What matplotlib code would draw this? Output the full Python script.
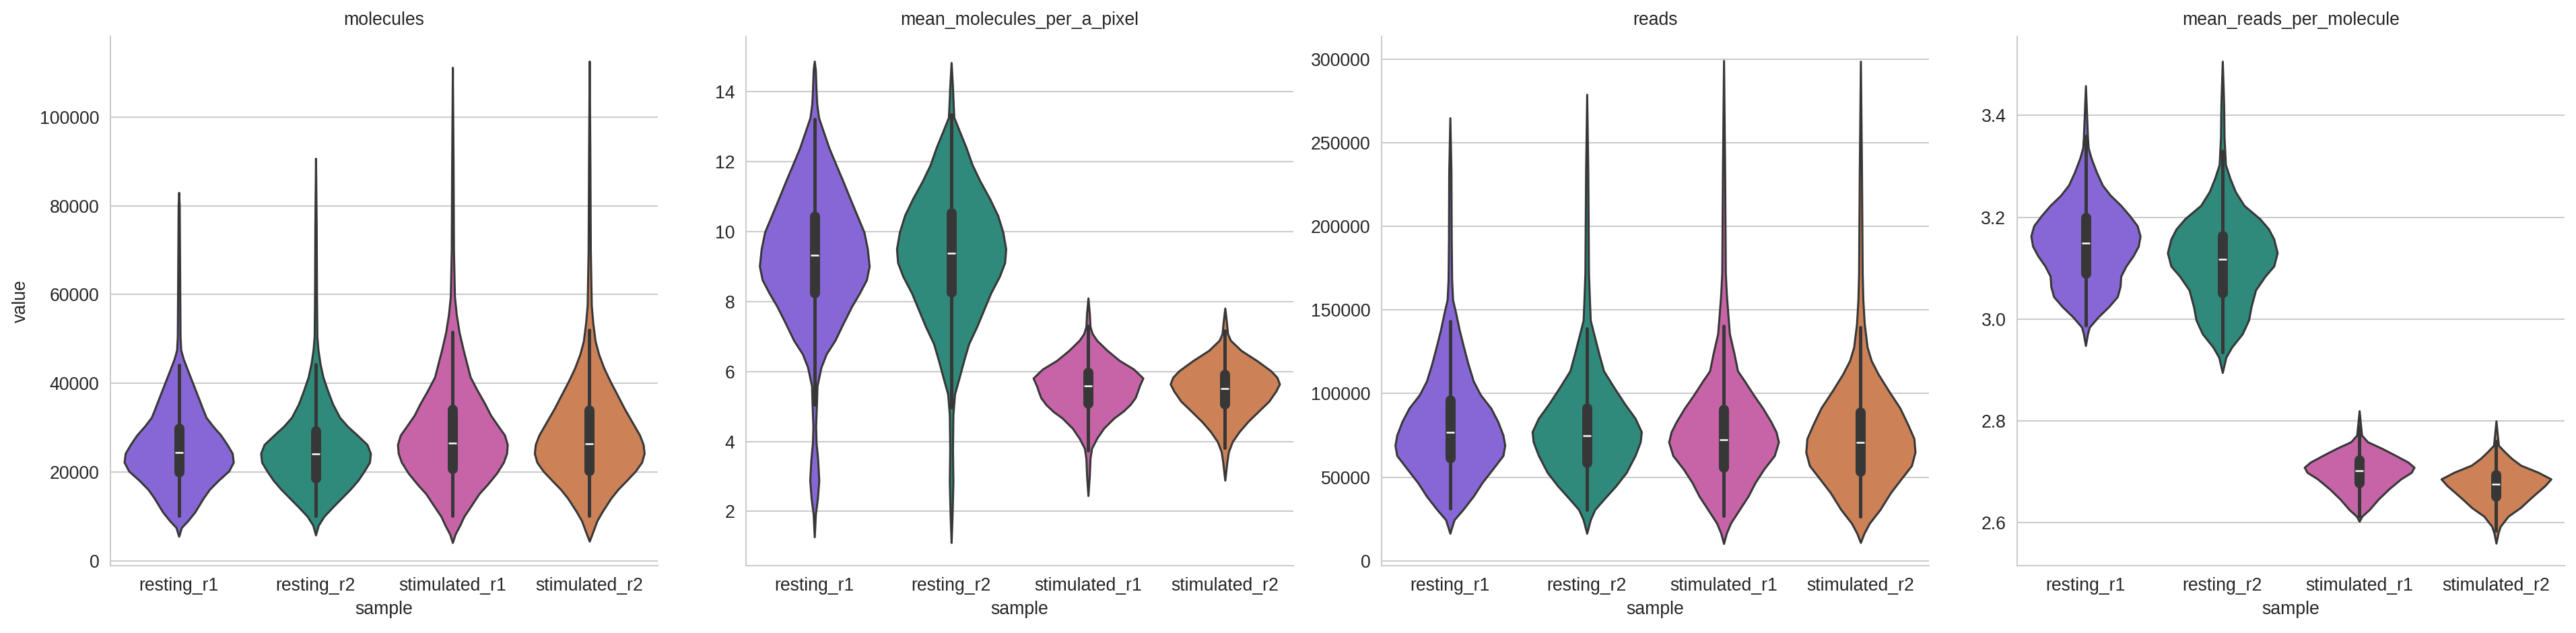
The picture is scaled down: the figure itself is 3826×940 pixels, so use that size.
import numpy as np
import matplotlib
matplotlib.use("Agg")
import matplotlib.pyplot as plt
from matplotlib.ticker import MultipleLocator

plt.rcParams["font.family"] = ["Liberation Sans", "DejaVu Sans"]
plt.rcParams["font.size"] = 9.6
for k in ["text.color", "axes.labelcolor", "xtick.color", "ytick.color"]:
    plt.rcParams[k] = "#262626"
plt.rcParams["axes.edgecolor"] = "#cccccc"
plt.rcParams["axes.linewidth"] = 0.75
plt.rcParams["grid.color"] = "#cccccc"
plt.rcParams["grid.linewidth"] = 0.75
plt.rcParams["xtick.major.size"] = 0
plt.rcParams["ytick.major.size"] = 0
plt.rcParams["xtick.major.pad"] = 6
plt.rcParams["ytick.major.pad"] = 6

samples = ["resting_r1", "resting_r2", "stimulated_r1", "stimulated_r2"]
colors = ["#8767d5", "#2f8a7b", "#c764a8", "#cc8157"]
line_c = "#373737"

# violin outlines: value levels and half widths (in category units)
# box rows: [lower whisker, q1, median, q3, upper whisker]
mol_y = [
    [5500, 7500, 9000, 11000, 14100, 16100, 18100, 20200, 22200, 24200, 26200, 28300, 30300,
     32300, 34300, 37400, 40400, 43400, 45500, 47500, 50500, 60000, 70000, 80000, 83000],
    [5800, 8000, 10000, 12100, 14100, 16100, 18100, 20200, 22200, 24200, 26200, 28300, 30300,
     32300, 35300, 38400, 41400, 44400, 47500, 50500, 60000, 75000, 90700],
    [4100, 6000, 8000, 10000, 12100, 15100, 17100, 19700, 22200, 24200, 26200, 28300, 30300,
     32800, 35300, 38400, 41400, 44400, 47500, 51500, 55600, 59600, 70000, 90000, 111200],
    [4400, 6500, 9000, 11100, 14100, 16100, 18100, 20200, 22200, 24200, 26200, 28300, 31300,
     34300, 37400, 40400, 43400, 46500, 49500, 53600, 57600, 70000, 90000, 112600],
]
mol_w = [
    [0, .02, .066, .118, .179, .225, .289, .365, .399, .391, .353, .307, .25,
     .2, .174, .135, .097, .059, .033, .015, .01, .008, .006, .004, 0],
    [0, .02, .061, .125, .189, .253, .309, .355, .394, .401, .376, .304, .233,
     .176, .125, .087, .054, .033, .018, .01, .007, .005, 0],
    [0, .02, .054, .084, .13, .194, .253, .322, .373, .396, .401, .381, .335,
     .279, .238, .181, .13, .105, .079, .049, .028, .015, .008, .005, 0],
    [0, .026, .056, .095, .158, .21, .273, .337, .383, .401, .394, .368, .312,
     .256, .204, .153, .107, .069, .043, .026, .015, .008, .005, 0],
]
mol_box = [
    [10100, 20000, 24400, 29900, 44200],
    [10100, 18700, 24100, 29300, 44300],
    [10100, 20800, 26600, 34100, 51600],
    [10100, 20300, 26300, 33900, 52000],
]

mpp_y = [
    [1.27, 1.92, 2.37, 2.89, 3.47, 3.98, 4.43, 5.07, 5.59, 6.12, 6.5, 6.89, 7.37, 7.86, 8.24,
     8.62, 9.01, 9.5, 9.98, 10.46, 10.94, 11.43, 11.91, 12.39, 12.88, 13.26, 13.65, 14.03, 14.61, 14.87],
    [1.11, 1.86, 2.83, 3.79, 4.75, 5.35, 5.83, 6.31, 6.79, 7.28, 7.76, 8.24, 8.72, 9.11, 9.5,
     9.98, 10.46, 10.94, 11.43, 11.91, 12.39, 12.88, 13.26, 13.65, 14.13, 14.83],
    [2.45, 3.03, 3.51, 3.8, 4.09, 4.38, 4.67, 4.86, 5.05, 5.25, 5.44, 5.59, 5.81, 6.07, 6.31,
     6.6, 6.89, 7.08, 7.28, 7.66, 8.1],
    [2.89, 3.41, 3.7, 3.99, 4.28, 4.57, 4.86, 5.15, 5.44, 5.64, 5.83, 6.02, 6.31, 6.6, 6.89,
     7.08, 7.37, 7.81],
]
mpp_w = [
    [0, .008, .023, .033, .025, .013, .01, .016, .02, .049, .087, .151, .21, .273, .33,
     .381, .401, .388, .363, .312, .261, .21, .158, .107, .064, .031, .018, .013, .008, 0],
    [0, .007, .013, .01, .013, .025, .059, .092, .128, .187, .238, .289, .353, .391, .399,
     .378, .34, .281, .212, .153, .11, .059, .02, .015, .01, 0],
    [0, .01, .015, .026, .064, .115, .19, .256, .307, .345, .363, .376, .401, .332, .23,
     .14, .064, .031, .015, .01, 0],
    [0, .015, .026, .054, .105, .169, .245, .322, .373, .399, .381, .335, .233, .118, .041,
     .02, .013, 0],
]
mpp_box = [
    [5.05, 8.25, 9.33, 10.45, 13.22],
    [4.98, 8.27, 9.38, 10.53, 13.35],
    [3.75, 5.09, 5.59, 5.98, 7.3],
    [3.81, 5.07, 5.52, 5.91, 7.17],
]

reads_y = [
    [16400, 20400, 24500, 30600, 38600, 46700, 54800, 62900, 69000, 75100, 83200, 91200,
     99300, 107400, 117500, 127700, 137800, 147900, 156000, 168100, 192400, 232800, 264800],
    [16400, 24500, 30600, 36600, 44700, 52800, 62900, 71000, 77100, 85200, 93300, 103400,
     113500, 123600, 135700, 143800, 156000, 172200, 232800, 278800],
    [10300, 16400, 22500, 30600, 38600, 46700, 54800, 62900, 71000, 77100, 83200, 91200,
     99300, 107400, 113500, 123600, 135700, 147900, 160000, 172200, 232800, 299000],
    [10900, 16400, 22500, 30600, 40700, 48800, 56900, 64900, 73000, 81100, 91200, 101400,
     111500, 119600, 127700, 141800, 156000, 172200, 232800, 298600],
]
reads_w = [
    [0, .015, .031, .095, .171, .235, .312, .388, .401, .388, .35, .299,
     .222, .171, .133, .1, .069, .043, .02, .013, .01, .008, 0],
    [0, .026, .059, .123, .212, .289, .353, .391, .399, .353, .281, .2,
     .123, .089, .051, .026, .02, .013, .008, 0],
    [0, .02, .051, .115, .179, .23, .294, .371, .401, .383, .345, .286,
     .217, .153, .102, .077, .043, .031, .02, .013, .008, 0],
    [0, .026, .066, .143, .22, .296, .373, .399, .391, .348, .289, .207,
     .13, .079, .049, .028, .018, .013, .008, 0],
]
reads_box = [
    [31400, 61500, 76900, 96100, 143400],
    [30400, 58700, 74900, 91400, 138600],
    [26900, 56000, 72400, 90400, 140600],
    [26500, 53600, 70800, 89000, 139400],
]

rpm_y = [
    [2.948, 2.971, 2.984, 3.004, 3.024, 3.044, 3.064, 3.084, 3.104, 3.124, 3.143, 3.163,
     3.183, 3.203, 3.223, 3.243, 3.263, 3.289, 3.316, 3.336, 3.356, 3.389, 3.458],
    [2.895, 2.925, 2.945, 2.971, 2.998, 3.024, 3.057, 3.084, 3.104, 3.13, 3.157, 3.177,
     3.197, 3.223, 3.25, 3.276, 3.303, 3.356, 3.422, 3.506],
    [2.603, 2.613, 2.626, 2.646, 2.666, 2.686, 2.699, 2.709, 2.719, 2.733, 2.746, 2.759,
     2.772, 2.792, 2.82],
    [2.56, 2.58, 2.593, 2.613, 2.63, 2.646, 2.66, 2.673, 2.686, 2.699, 2.713, 2.726,
     2.739, 2.752, 2.772, 2.8],
]
rpm_w = [
    [0, .015, .028, .092, .169, .233, .253, .258, .296, .348, .386, .399,
     .378, .322, .258, .181, .123, .079, .041, .02, .015, .01, 0],
    [0, .026, .069, .146, .192, .21, .243, .312, .376, .401, .376, .337,
     .273, .158, .095, .056, .023, .013, .01, 0],
    [0, .02, .074, .138, .215, .304, .381, .401, .357, .26, .166, .061,
     .018, .01, 0],
    [0, .015, .031, .089, .179, .243, .302, .358, .401, .308, .18, .115,
     .064, .018, .01, 0],
]
rpm_box = [
    [2.988, 3.09, 3.149, 3.199, 3.36],
    [2.935, 3.051, 3.118, 3.164, 3.33],
    [2.612, 2.679, 2.703, 2.724, 2.79],
    [2.585, 2.652, 2.676, 2.695, 2.76],
]

panels = [
    ("molecules", mol_y, mol_w, mol_box, (-1100, 118200), 20000),
    ("mean_molecules_per_a_pixel", mpp_y, mpp_w, mpp_box, (0.45, 15.58), 2),
    ("reads", reads_y, reads_w, reads_box, (-2900, 313500), 50000),
    ("mean_reads_per_molecule", rpm_y, rpm_w, rpm_box, (2.516, 3.555), 0.2),
]

fig = plt.figure(figsize=(19.13, 4.7), dpi=200)
for i, (title, ys, ws, boxes, ylim, step) in enumerate(panels):
    ax = fig.add_axes([(164 + 944 * i) / 3826, 100 / 940, 813 / 3826, 786 / 940])
    stats = []
    for y, w, b in zip(ys, ws, boxes):
        stats.append(dict(coords=np.array(y, float), vals=np.array(w, float),
                          mean=b[2], median=b[2], min=y[0], max=y[-1]))
    parts = ax.violin(stats, positions=range(4), widths=[2 * max(w) for w in ws],
                      showextrema=False)
    for body, c in zip(parts["bodies"], colors):
        body.set_facecolor(c)
        body.set_edgecolor(line_c)
        body.set_linewidth(1.1)
        body.set_alpha(1)
        body.set_joinstyle("round")
        body.set_zorder(2)
    for x, b in enumerate(boxes):
        ax.plot([x, x], [b[0], b[4]], color=line_c, lw=1.8, solid_capstyle="round", zorder=3)
        ax.plot([x, x], [b[1], b[3]], color=line_c, lw=5.4, solid_capstyle="round", zorder=3)
        ax.plot([x], [b[2]], marker="_", color="white", ms=4.5, mew=0.9, zorder=4)
    ax.set_xlim(-0.5, 3.5)
    ax.set_ylim(*ylim)
    ax.yaxis.set_major_locator(MultipleLocator(step))
    ax.set_xticks(range(4))
    ax.set_xticklabels(samples)
    ax.set_axisbelow(True)
    ax.yaxis.grid(True)
    ax.xaxis.grid(False)
    for s in ["top", "right"]:
        ax.spines[s].set_visible(False)
    ax.set_title(title, fontsize=9.6)
    ax.set_xlabel("sample", labelpad=3.5)
    if i == 0:
        ax.set_ylabel("value", labelpad=5.5)

fig.savefig("out.png", dpi=200)
